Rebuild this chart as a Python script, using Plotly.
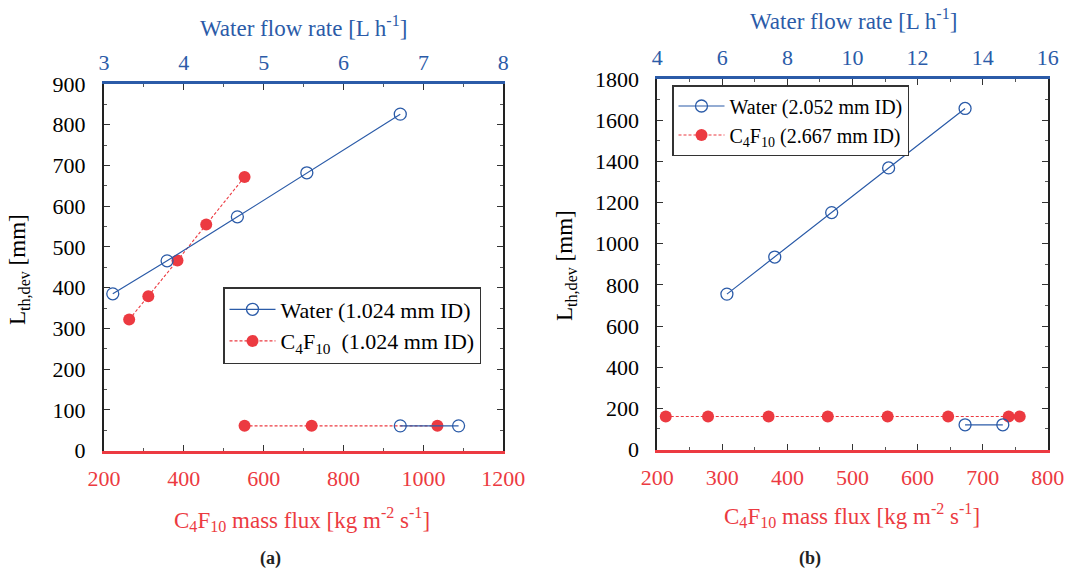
import plotly.graph_objects as go

W, H = 1072, 568
BLUE = "#2b5ba8"
RED = "#ec3a41"
FONT = "Liberation Serif"

# ---- panel (a): 1.024 mm ID ----
a_water_flow = [3.11, 3.79, 4.67, 5.54, 6.71]          # L/h
a_water_len = [385, 466, 574, 682, 826]                # mm
a_water_flow_low = [6.71, 7.44]
a_water_len_low = [61, 61]
a_c4f10_flux = [263, 311, 384, 456, 552]               # kg m-2 s-1
a_c4f10_len = [322, 379, 467, 555, 672]
a_c4f10_flux_low = [552, 720, 1035]
a_c4f10_len_low = [61, 61, 61]

# ---- panel (b): 2.052 / 2.667 mm ID ----
b_water_flow = [6.14, 7.61, 9.36, 11.11, 13.46]
b_water_len = [755, 935, 1151, 1368, 1657]
b_water_flow_low = [13.46, 14.62]
b_water_len_low = [120, 120]
b_c4f10_flux = [213, 278, 371, 462, 554, 647, 740, 757]
b_c4f10_len = [160, 160, 160, 160, 160, 160, 160, 160]

legend_a = ["Water (1.024 mm ID)", "C<sub>4</sub>F<sub>10</sub>\u00a0\u00a0(1.024 mm ID)"]
legend_b = ["Water (2.052 mm ID)", "C<sub>4</sub>F<sub>10</sub> (2.667 mm ID)"]


def px(x):
    return x / W


def py(y):
    return 1 - y / H


water_style = dict(mode="lines+markers",
                   line=dict(color=BLUE, width=1.2),
                   marker=dict(symbol="circle-open", size=12, color=BLUE,
                               line=dict(width=1.3, color=BLUE)))
c4_style = dict(mode="lines+markers",
                line=dict(color=RED, width=1.1, dash="3px,2px"),
                marker=dict(symbol="circle", size=12, color=RED))

fig = go.Figure()

# panel (a)
fig.add_trace(go.Scatter(x=a_water_flow, y=a_water_len, xaxis="x2", yaxis="y",
                         name=legend_a[0], legend="legend", **water_style))
fig.add_trace(go.Scatter(x=a_c4f10_flux, y=a_c4f10_len, xaxis="x", yaxis="y",
                         name=legend_a[1], legend="legend", **c4_style))
fig.add_trace(go.Scatter(x=a_c4f10_flux_low, y=a_c4f10_len_low, xaxis="x", yaxis="y",
                         showlegend=False, **c4_style))
fig.add_trace(go.Scatter(x=a_water_flow_low, y=a_water_len_low, xaxis="x2", yaxis="y",
                         showlegend=False, **water_style))

# panel (b)
fig.add_trace(go.Scatter(x=b_water_flow, y=b_water_len, xaxis="x4", yaxis="y2",
                         name=legend_b[0], legend="legend2", **water_style))
fig.add_trace(go.Scatter(x=b_c4f10_flux, y=b_c4f10_len, xaxis="x3", yaxis="y2",
                         name=legend_b[1], legend="legend2", **c4_style))
fig.add_trace(go.Scatter(x=b_water_flow_low, y=b_water_len_low, xaxis="x4", yaxis="y2",
                         showlegend=False, **water_style))

tickfont = dict(family=FONT, size=22)


def xbottom(domain, rng, dtick, mdtick, anchor):
    return dict(domain=domain, range=rng, anchor=anchor, side="bottom", automargin=False,
                showline=True, linecolor=RED, linewidth=3,
                ticks="inside", ticklen=6, tickwidth=1, tickcolor="#333",
                dtick=dtick, tick0=rng[0],
                minor=dict(dtick=mdtick, ticklen=3, tickcolor="#555", ticks="inside"),
                tickfont=dict(tickfont, color=RED), ticklabelstandoff=6,
                showgrid=False, zeroline=False)


def xtop(overlay, rng, dtick, mdtick, anchor):
    return dict(overlaying=overlay, range=rng, anchor=anchor, side="top", automargin=False,
                showline=True, linecolor=BLUE, linewidth=3,
                ticks="inside", ticklen=6, tickwidth=1, tickcolor="#333",
                dtick=dtick, tick0=rng[0],
                minor=dict(dtick=mdtick, ticklen=3, tickcolor="#555", ticks="inside"),
                tickfont=dict(tickfont, color=BLUE), ticklabelstandoff=2,
                showgrid=False, zeroline=False)


def yleft(domain, rng, dtick, mdtick, anchor):
    return dict(domain=domain, range=rng, anchor=anchor, automargin=False,
                showline=True, linecolor="#222", linewidth=2, mirror="ticks",
                ticks="inside", ticklen=6, tickwidth=1, tickcolor="#333",
                dtick=dtick, tick0=0,
                minor=dict(dtick=mdtick, ticklen=3, tickcolor="#555", ticks="inside"),
                tickfont=dict(tickfont, color="black"), ticklabelstandoff=12,
                showgrid=False, zeroline=False)


dom_a_x = [px(104), px(503.3)]
dom_a_y = [py(450.7), py(84)]
dom_b_x = [px(657.3), px(1047.7)]
dom_b_y = [py(449.5), py(79)]

fig.update_layout(
    width=W, height=H,
    margin=dict(l=0, r=0, t=0, b=0, autoexpand=False),
    paper_bgcolor="white", plot_bgcolor="white",
    font=dict(family=FONT, color="black"),
    xaxis=xbottom(dom_a_x, [200, 1200], 200, 100, "y"),
    xaxis2=xtop("x", [3, 8], 1, 0.5, "y"),
    yaxis=yleft(dom_a_y, [0, 900], 100, 50, "x"),
    xaxis3=xbottom(dom_b_x, [200, 800], 100, 50, "y2"),
    xaxis4=xtop("x3", [4, 16], 2, 1, "y2"),
    yaxis2=yleft(dom_b_y, [0, 1800], 200, 100, "x3"),
    legend=dict(x=px(223), y=py(287), xanchor="left", yanchor="top",
                bgcolor="white", bordercolor="#333", borderwidth=1.5,
                font=dict(family=FONT, size=22, color="black"),
                tracegroupgap=0, itemwidth=46),
    legend2=dict(x=px(672), y=py(85), xanchor="left", yanchor="top",
                 bgcolor="white", bordercolor="#333", borderwidth=1.5,
                 font=dict(family=FONT, size=20, color="black"),
                 tracegroupgap=0, itemwidth=46),
    showlegend=True,
)

annotations = [
    dict(text="Water flow rate [L h<sup>-1</sup>]", x=px(303), y=py(27), font=dict(size=23, color=BLUE)),
    dict(text="C<sub>4</sub>F<sub>10</sub> mass flux [kg m<sup>-2</sup> s<sup>-1</sup>]", x=px(302), y=py(519), font=dict(size=23, color=RED)),
    dict(text="L<sub>th,dev</sub> [mm]", x=px(19), y=py(270), textangle=-90, font=dict(size=23, color="black")),
    dict(text="<b>(a)</b>", x=px(270), y=py(558), font=dict(size=18, color="#222")),
    dict(text="Water flow rate [L h<sup>-1</sup>]", x=px(853), y=py(20), font=dict(size=23, color=BLUE)),
    dict(text="C<sub>4</sub>F<sub>10</sub> mass flux [kg m<sup>-2</sup> s<sup>-1</sup>]", x=px(852), y=py(515), font=dict(size=23, color=RED)),
    dict(text="L<sub>th,dev</sub> [mm]", x=px(566), y=py(266), textangle=-90, font=dict(size=23, color="black")),
    dict(text="<b>(b)</b>", x=px(810), y=py(558), font=dict(size=18, color="#222")),
]
for a in annotations:
    a.update(xref="paper", yref="paper", showarrow=False, xanchor="center", yanchor="middle")
    a["font"]["family"] = FONT
fig.update_layout(annotations=annotations)

fig.write_html("out.html")
